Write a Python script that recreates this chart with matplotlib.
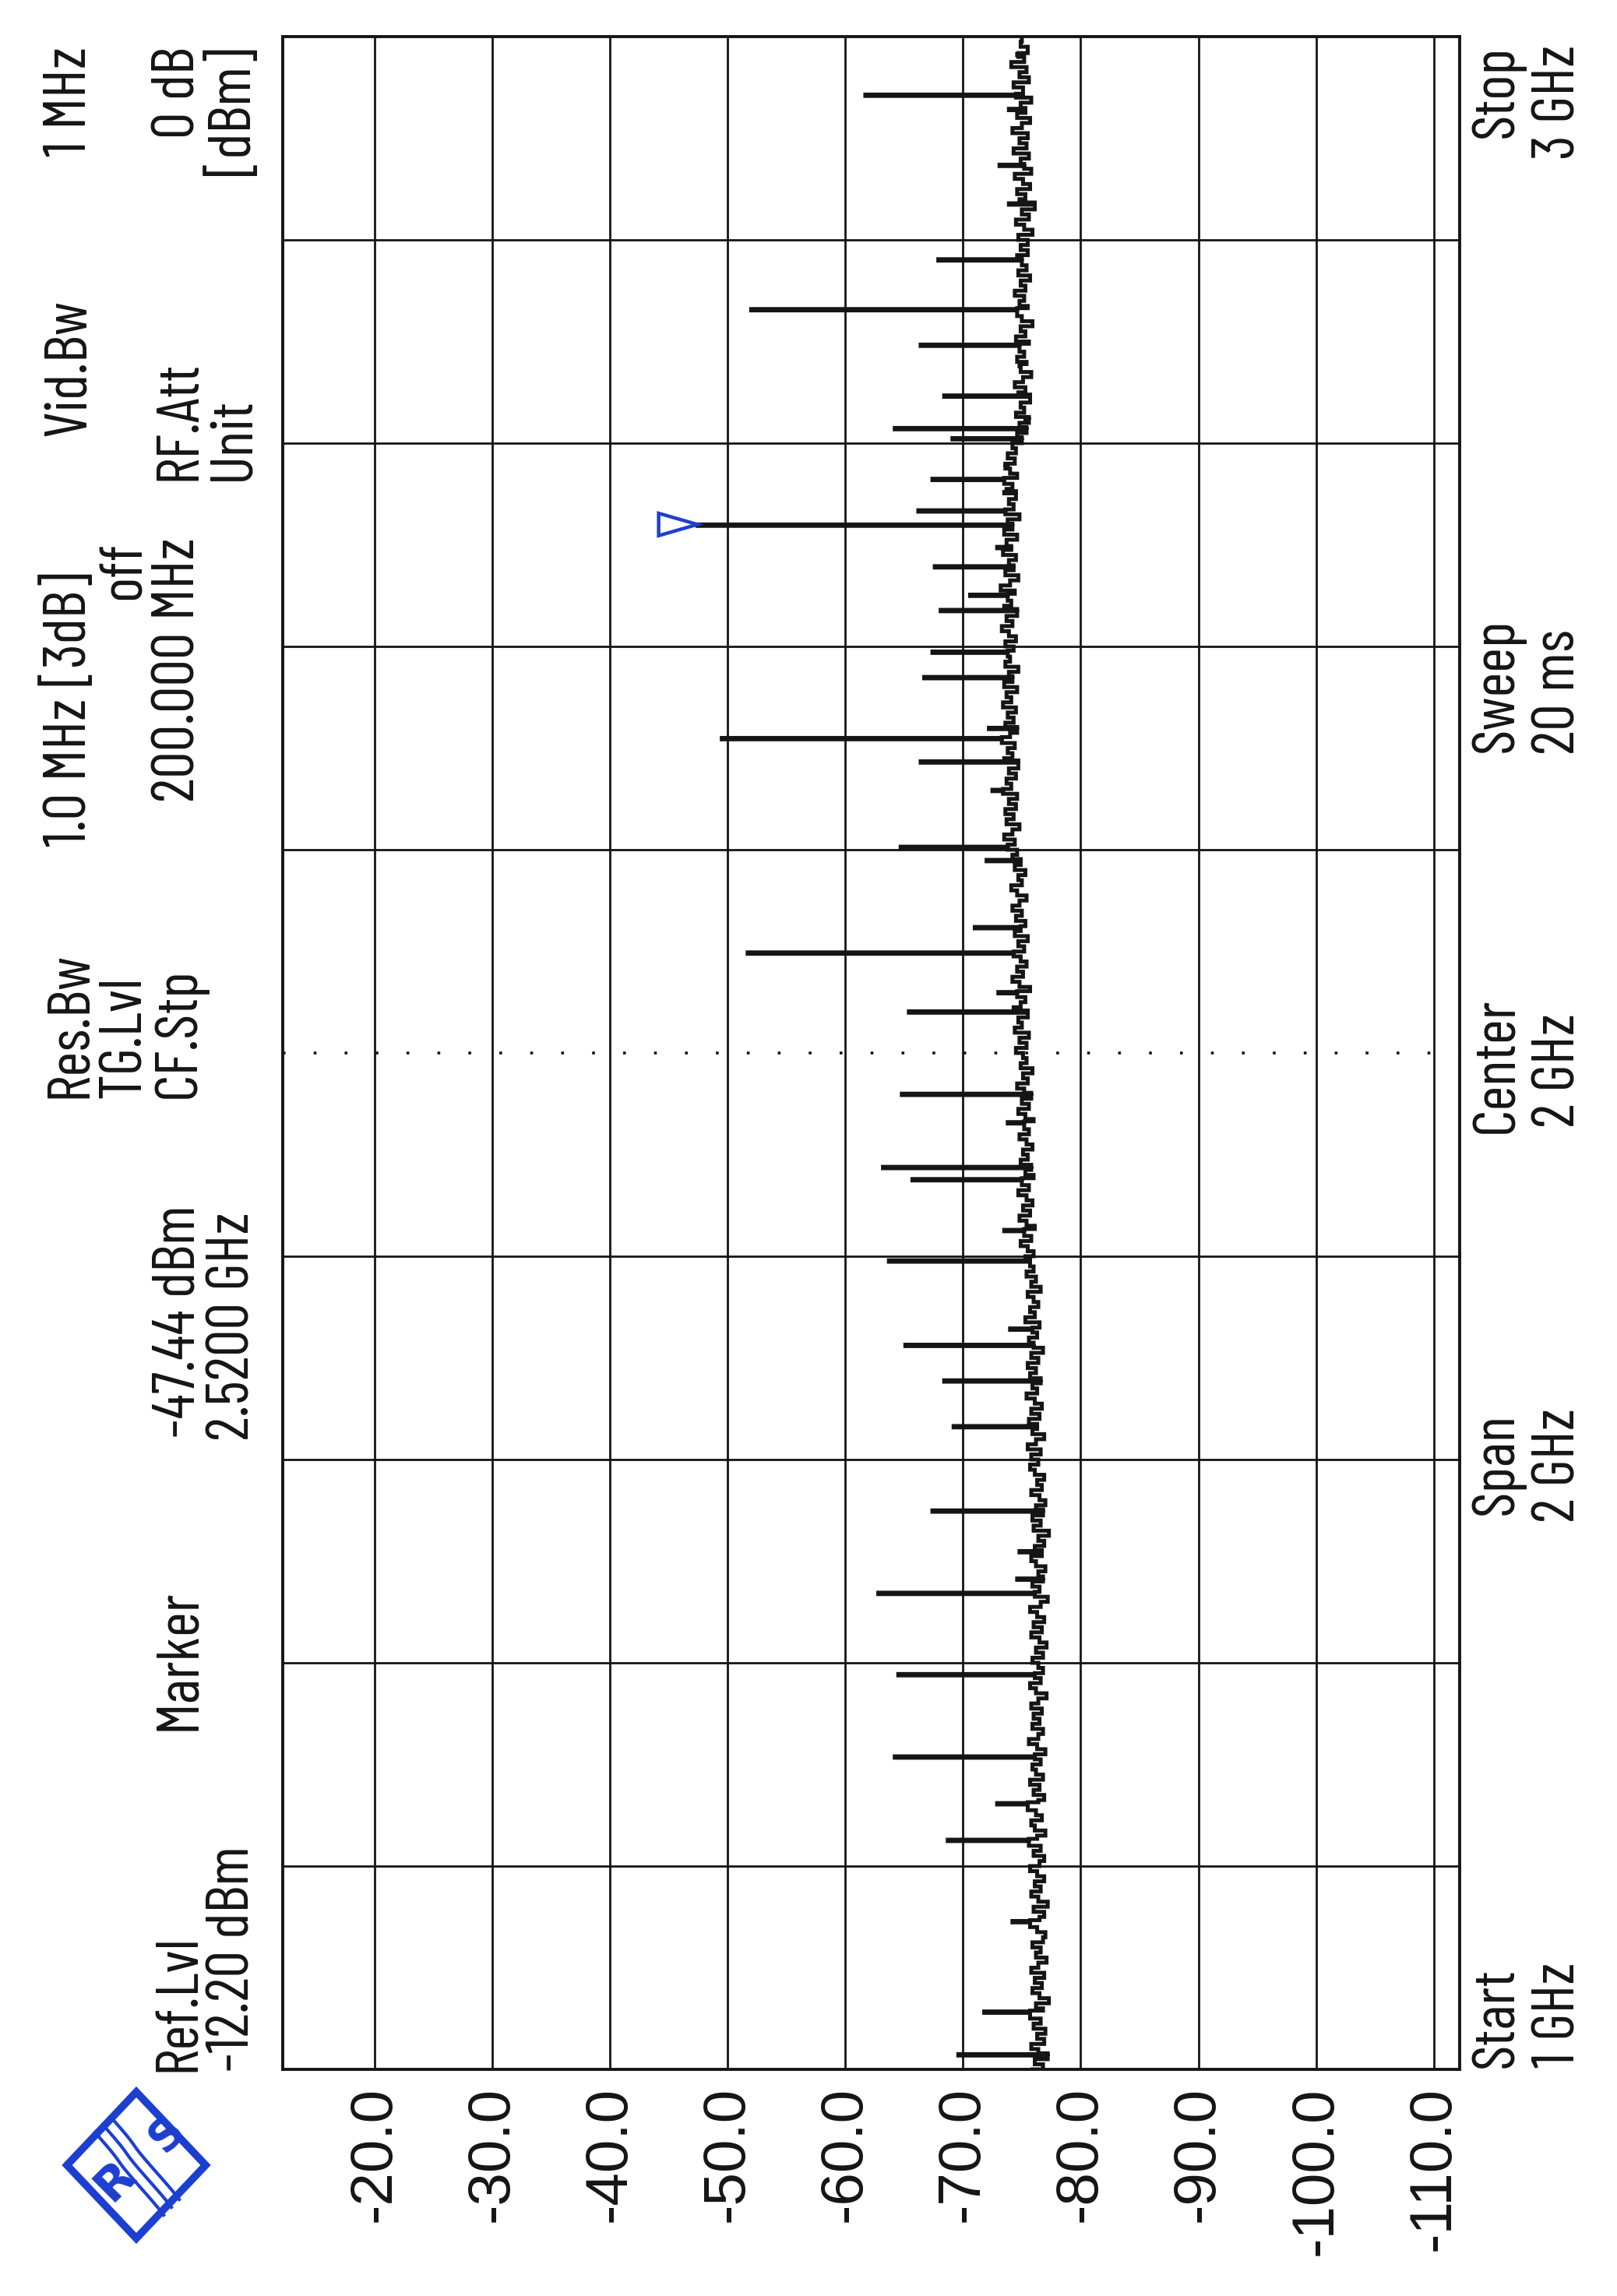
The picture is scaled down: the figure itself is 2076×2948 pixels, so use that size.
import matplotlib
matplotlib.use("Agg")
import matplotlib.pyplot as plt
import numpy as np
from matplotlib.patches import Polygon
from matplotlib import font_manager as fm

W, H = 2076, 2948

# ---- data ----
REF_LVL, RANGE_DB = -12.2, 100.0
F_START, F_STOP, F_CENTER = 1.0, 3.0, 2.0
AMP_TICKS = [-20, -30, -40, -50, -60, -70, -80, -90, -100, -110]
FREQ_GRID = [1.2, 1.4, 1.6, 1.8, 2.2, 2.4, 2.6, 2.8]

# noise floor, 5 MHz steps from 1.000 to 3.000 GHz (one row = 50 MHz)
NOISE_DBM = [
    -75.9, -76.8, -76.1, -77.2, -76.4, -75.8, -76.9, -76.3, -77.0, -76.0,
    -76.6, -75.7, -76.8, -76.2, -77.3, -76.5, -75.9, -76.7, -76.1, -76.9,
    -75.8, -76.4, -77.1, -76.2, -76.6, -75.9, -76.8, -77.0, -76.3, -75.7,
    -76.5, -76.9, -76.0, -77.2, -76.4, -75.8, -76.6, -76.1, -76.9, -76.3,
    -75.7, -76.5, -76.9, -76.0, -76.6, -75.6, -76.3, -77.0, -76.1, -75.8,
    -76.7, -76.2, -75.5, -76.4, -76.9, -76.0, -76.5, -75.7, -76.8, -76.2,
    -75.9, -76.6, -76.1, -77.0, -76.3, -75.6, -76.4, -76.8, -75.9, -76.5,
    -76.0, -76.7, -75.8, -76.4, -77.1, -76.2, -75.7, -76.6, -76.1, -76.8,
    -76.4, -75.9, -76.8, -76.2, -77.1, -76.5, -75.8, -76.7, -76.0, -76.9,
    -76.3, -75.7, -76.6, -77.2, -76.1, -76.5, -75.9, -76.8, -76.4, -77.0,
    -76.2, -75.8, -76.7, -76.1, -76.9, -76.4, -77.3, -76.0, -76.6, -75.9,
    -76.8, -76.2, -77.0, -76.5, -75.8, -76.7, -76.3, -76.9, -76.1, -75.7,
    -76.4, -75.8, -76.6, -75.5, -76.2, -76.9, -75.9, -76.3, -75.6, -76.5,
    -75.8, -76.7, -76.1, -75.4, -76.3, -75.9, -76.6, -75.7, -76.2, -75.5,
    -76.4, -75.8, -76.8, -76.0, -75.6, -76.3, -75.9, -76.5, -75.3, -76.1,
    -75.7, -76.4, -76.0, -75.5, -76.6, -75.8, -76.2, -75.4, -76.0, -75.7,
    -75.3, -76.0, -75.5, -74.9, -75.8, -75.2, -76.1, -75.4, -74.8, -75.7,
    -75.1, -75.9, -75.4, -74.7, -75.6, -75.0, -76.0, -75.3, -75.8, -74.9,
    -75.5, -75.1, -75.9, -75.4, -74.8, -75.6, -75.2, -76.0, -75.3, -74.7,
    -75.6, -75.0, -75.8, -75.2, -74.6, -75.5, -75.1, -75.9, -74.9, -75.4,
    -75.1, -74.5, -75.4, -74.8, -75.6, -74.4, -75.0, -74.7, -75.5, -74.3,
    -74.9, -75.3, -74.6, -75.7, -74.8, -74.2, -75.1, -74.6, -75.4, -74.9,
    -74.3, -75.2, -74.7, -75.5, -74.4, -74.9, -75.3, -74.5, -75.0, -74.2,
    -74.8, -75.4, -74.6, -74.1, -75.0, -74.7, -75.3, -74.4, -74.9, -74.2,
    -74.6, -73.8, -74.4, -73.5, -74.2, -74.8, -73.7, -74.3, -73.6, -74.5,
    -73.9, -74.6, -73.4, -74.1, -73.7, -74.5, -73.9, -74.7, -73.5, -74.2,
    -73.8, -74.4, -73.3, -74.0, -74.6, -73.6, -74.3, -73.8, -74.5, -73.4,
    -74.1, -73.7, -74.6, -73.5, -74.2, -73.9, -74.7, -73.6, -74.0, -73.8,
    -74.3, -73.6, -74.5, -73.9, -73.3, -74.2, -73.7, -74.6, -73.5, -74.1,
    -73.8, -74.4, -73.2, -74.0, -74.7, -73.6, -74.3, -73.9, -74.5, -73.4,
    -74.1, -73.7, -74.6, -73.5, -74.2, -73.8, -74.8, -73.6, -74.3, -73.9,
    -74.5, -73.7, -74.2, -73.5, -74.6, -74.0, -73.6, -74.4, -73.8, -74.5,
    -74.2, -75.0, -74.6, -75.4, -74.8, -75.6, -74.5, -75.2, -74.9, -75.7,
    -74.7, -75.3, -74.4, -75.1, -75.8, -74.9, -75.4, -74.6, -75.2, -74.8,
    -75.6, -74.5, -75.3, -74.9, -75.9, -75.0, -74.6, -75.5, -74.8, -75.2,
    -74.4, -75.3, -74.9, -75.7, -74.7, -75.4, -75.0, -74.6, -75.5, -74.9,
    -75.5, -74.7, -75.9, -75.2, -74.5, -75.6, -75.0, -76.1, -74.8, -75.3,
    -74.6, -75.7, -75.1, -74.4, -75.8, -75.2, -74.9, -75.6, -74.3, -75.4,
    -74.8, -75.5, -74.2, -75.0, -75.7, -74.6, -75.3, -74.9, -75.8, -74.5,
    -75.1, -74.3, -75.6, -74.8, -75.4, -74.1, -75.2, -74.7, -75.5, -74.9,
    -75.0,
]
NOISE_GHZ = np.round(np.linspace(F_START, F_STOP, len(NOISE_DBM)), 4)

# discrete spurs: frequency (GHz) and peak level (dBm)
SPUR_GHZ = [1.015, 1.057, 1.146, 1.226, 1.262, 1.308, 1.389, 1.469, 1.483, 1.510,
            1.550, 1.633, 1.678, 1.713, 1.729, 1.796, 1.826, 1.876, 1.888, 1.932,
            1.960, 2.041, 2.060, 2.099, 2.124, 2.190, 2.203, 2.259, 2.287, 2.310,
            2.320, 2.370, 2.395, 2.436, 2.451, 2.479, 2.498, 2.520, 2.534, 2.552,
            2.565, 2.579, 2.605, 2.615, 2.625, 2.647, 2.677, 2.697, 2.732, 2.781,
            2.836, 2.874, 2.929, 2.943, 2.983]
SPUR_DBM = [-69.6, -71.8, -74.2, -68.7, -72.9, -64.2, -64.5, -62.8, -74.6, -74.8,
            -67.4, -69.2, -68.4, -65.1, -74.0, -63.7, -73.5, -65.7, -63.2, -73.8,
            -64.8, -65.4, -73.0, -51.7, -71.0, -72.0, -64.7, -72.5, -66.4, -49.5,
            -72.2, -66.7, -67.4, -68.1, -70.6, -67.6, -72.9, -47.44, -66.2, -73.5,
            -67.4, -73.8, -69.1, -64.2, -75.3, -68.4, -74.8, -66.4, -52.0, -67.9,
            -73.9, -73.1, -73.9, -61.7, -74.6]

MARKER_GHZ, MARKER_DBM = 2.52, -47.44

HEADER = [("Ref.Lvl", "-12.20 dBm"), "Marker", ("-47.44 dBm", "2.5200 GHz"),
          ("Res.Bw", "TG.Lvl", "CF.Stp"), ("1.0 MHz [3dB]", "off", "200.000 MHz"),
          ("Vid.Bw", "RF.Att", "Unit"), ("1 MHz", "0 dB", "[dBm]")]
FOOTER = [("Start", "1 GHz"), ("Span", "2 GHz"), ("Center", "2 GHz"),
          ("Sweep", "20 ms"), ("Stop", "3 GHz")]

# ---- fonts: narrow face for the analyzer annotations ----
ttf = fm.fontManager.ttflist
names = {f.name for f in ttf}
if "Barlow Condensed" in names:
    HDR = fm.FontProperties(family="Barlow Condensed", size=56)
elif any(f.name == "DejaVu Sans" and f.stretch == "condensed" for f in ttf):
    HDR = fm.FontProperties(family="DejaVu Sans", stretch="condensed", size=46)
else:
    HDR = fm.FontProperties(family="DejaVu Sans Mono", size=38)

INK = "#151515"
BLUE = "#1d3fd0"

fig = plt.figure(figsize=(W / 100, H / 100), dpi=100, facecolor="white")
ax = fig.add_axes([363 / W, 1 - 2657 / H, (1874 - 363) / W, (2657 - 47) / H])
ax.set_xlim(REF_LVL, REF_LVL - RANGE_DB)
ax.set_ylim(F_START, F_STOP)

ax.set_xticks(AMP_TICKS)
ax.set_xticklabels([f"{v:.1f}" for v in AMP_TICKS], rotation=90,
                   fontsize=55, family="Liberation Sans", color=INK)
ax.tick_params(axis="x", length=0, pad=16)
ax.set_yticks(FREQ_GRID)
ax.tick_params(axis="y", length=0, labelleft=False)
ax.grid(True, color=INK, lw=2.0)
ax.axhline(F_CENTER, color=INK, lw=2.6, ls=(0, (1, 10)))
for s in ax.spines.values():
    s.set_linewidth(2.8)
    s.set_color(INK)

# trace: noise floor with spurs dropped in
keep = [i for i, f in enumerate(NOISE_GHZ) if min(abs(f - g) for g in SPUR_GHZ) > 0.002]
pts = [(NOISE_GHZ[i], NOISE_DBM[i]) for i in keep]
for g, p in zip(SPUR_GHZ, SPUR_DBM):
    base = NOISE_DBM[int(np.argmin(np.abs(NOISE_GHZ - g)))]
    pts += [(g - 0.0014, base), (g, p), (g + 0.0008, base)]
pts.sort()
ax.plot([p[1] for p in pts], [p[0] for p in pts], color=INK, lw=3.6,
        drawstyle="steps-post", solid_joinstyle="miter")

# marker triangle
tri = [(MARKER_DBM + 3.3, MARKER_GHZ + 0.011), (MARKER_DBM, MARKER_GHZ),
       (MARKER_DBM + 3.3, MARKER_GHZ - 0.011)]
ax.add_patch(Polygon(tri, closed=True, fill=False, ec=BLUE, lw=3.2, clip_on=False, zorder=5))


def txt(x, y, s, ha="left"):
    fig.text(x / W, 1 - y / H, s, rotation=90, rotation_mode="anchor",
             ha=ha, va="baseline", fontproperties=HDR, color=INK)


L0, LA, LB, LC = 110, 180, 250, 320
txt(LB, 2660, HEADER[0][0]); txt(LC, 2660, HEADER[0][1])
txt(LB, 2222, HEADER[1])
txt(LB, 1846, HEADER[2][0]); txt(LC, 1850, HEADER[2][1])
txt(L0, 1410, HEADER[3][0]); txt(LA, 1410, HEADER[3][1]); txt(LB, 1410, HEADER[3][2])
txt(L0, 1087, HEADER[4][0]); txt(LA, 695, HEADER[4][1], ha="right"); txt(LB, 1030, HEADER[4][2])
txt(L0, 560, HEADER[5][0]); txt(LB, 617, HEADER[5][1]); txt(LC, 617, HEADER[5][2])
txt(L0, 60, HEADER[6][0], ha="right"); txt(LB, 60, HEADER[6][1], ha="right")
txt(LC, 60, HEADER[6][2], ha="right")

B1, B2 = 1942, 2022
txt(B1, 2655, FOOTER[0][0]); txt(B2, 2655, FOOTER[0][1])
txt(B1, 1945, FOOTER[1][0]); txt(B2, 1955, FOOTER[1][1])
txt(B1, 1455, FOOTER[2][0]); txt(B2, 1448, FOOTER[2][1])
txt(B1, 966, FOOTER[3][0]); txt(B2, 969, FOOTER[3][1])
txt(B1, 58, FOOTER[4][0], ha="right"); txt(B2, 58, FOOTER[4][1], ha="right")

# R&S logo (rotated diamond)
cx, cy, dx, dy = 175, 2780, 89, 94
dia = [(cx - dx, cy), (cx, cy - dy), (cx + dx, cy), (cx, cy + dy)]
fig.add_artist(Polygon([(x / W, 1 - y / H) for x, y in dia], closed=True, fill=False,
                       ec=BLUE, lw=7, joinstyle="miter", transform=fig.transFigure))
fig.text(148 / W, 1 - 2800 / H, "R", rotation=45, ha="center", va="center",
         fontsize=44, fontweight="bold", color=BLUE, family="DejaVu Sans")
fig.text(214 / W, 1 - 2740 / H, "S", rotation=45, ha="center", va="center",
         fontsize=40, fontweight="bold", color=BLUE, family="DejaVu Sans")
t = np.linspace(0, 1, 60)
for off in (-10, 0, 10):
    xs = 132 + 86 * t + off + 5 * np.sin(t * 9)
    ys = 2728 + 104 * t - off + 5 * np.sin(t * 9)
    fig.add_artist(plt.Line2D(xs / W, 1 - ys / H, color=BLUE, lw=3, transform=fig.transFigure))

fig.savefig("out.png", dpi=100, facecolor="white")
